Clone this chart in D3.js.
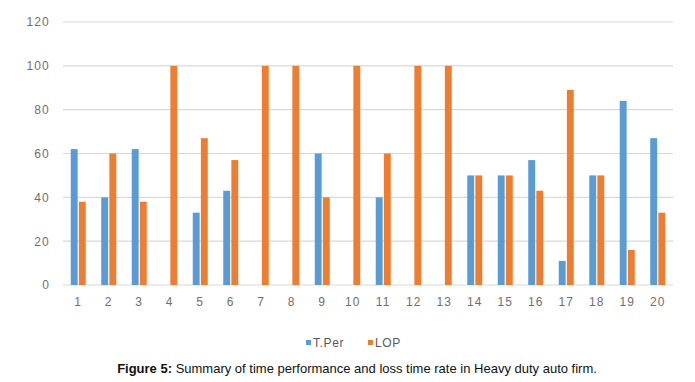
<!DOCTYPE html>
<html><head><meta charset="utf-8">
<script src="https://cdn.jsdelivr.net/npm/d3@7"></script>
<style>body{margin:0;background:#fff}svg{display:block}</style>
</head><body>
<script>
const categories = ["1","2","3","4","5","6","7","8","9","10","11","12","13","14","15","16","17","18","19","20"];
const tPer = [62,40,62,0,33,43,0,0,60,0,40,0,0,50,50,57,11,50,84,67];
const lop  = [38,60,38,100,67,57,100,100,40,100,60,100,100,50,50,43,89,50,16,33];
const seriesNames = ["T.Per","LOP"];
const seriesColors = ["#5b9bd5","#ed7d31"];
const yTicks = [0,20,40,60,80,100,120];
const caption = "Summary of time performance and loss time rate in Heavy duty auto firm.";

const W=695,H=382;
const svg=d3.select("body").append("svg").attr("width",W).attr("height",H);
const x=d3.scaleBand().domain(categories).range([63,673]).paddingInner(0).paddingOuter(0);
const y=d3.scaleLinear().domain([0,120]).range([285,22]);
const inner=d3.scaleBand().domain(seriesNames).range([x.bandwidth()/2-7.5,x.bandwidth()/2+7.5]).paddingInner(0.15);

// gridlines
svg.append("g").selectAll("line").data(yTicks).join("line")
  .attr("x1",63).attr("x2",673).attr("y1",d=>y(d)).attr("y2",d=>y(d))
  .attr("stroke","#d9d9d9").attr("stroke-width",1.2);

const tickFont = g => g.selectAll("text").attr("fill","#6f6f6f")
  .style("font-family","Liberation Sans, Arial, sans-serif").style("font-size","12px").style("letter-spacing","1.2px");

// y axis labels
const ya=svg.append("g").attr("transform","translate(58,0)")
  .call(d3.axisLeft(y).tickValues(yTicks).tickSize(0).tickPadding(8));
ya.select(".domain").remove();
tickFont(ya);

// x axis labels
const xa=svg.append("g").attr("transform","translate(0,285)")
  .call(d3.axisBottom(x).tickSize(0).tickPadding(12));
xa.select(".domain").remove();
tickFont(xa);

const data=[tPer,lop];
seriesNames.forEach((s,si)=>{
  svg.append("g").selectAll("rect").data(categories).join("rect")
    .attr("x",(c)=>x(c)+inner(s))
    .attr("width",inner.bandwidth())
    .attr("y",(c,i)=>y(data[si][i]))
    .attr("height",(c,i)=>y(0)-y(data[si][i]))
    .attr("fill",seriesColors[si]);
});

// legend
const leg=svg.append("g").attr("transform","translate(306,343)");
const legX=[0,62];
seriesNames.forEach((s,i)=>{
  leg.append("rect").attr("x",legX[i]).attr("y",-3).attr("width",5).attr("height",5).attr("fill",seriesColors[i]);
  leg.append("text").attr("x",legX[i]+7).attr("y",4).text(s)
    .attr("fill","#595959").style("font-family","Liberation Sans, Arial, sans-serif").style("font-size","12px").style("letter-spacing","0.6px");
});

// caption
const cap=svg.append("text").attr("x",357).attr("y",373).attr("text-anchor","middle")
  .style("font-family","Liberation Sans Narrow, Arial Narrow, Liberation Sans, sans-serif").style("font-size","13px").attr("fill","#111");
cap.append("tspan").attr("font-weight","bold").text("Figure 5:");
cap.append("tspan").text(" "+caption);
</script>
</body></html>
